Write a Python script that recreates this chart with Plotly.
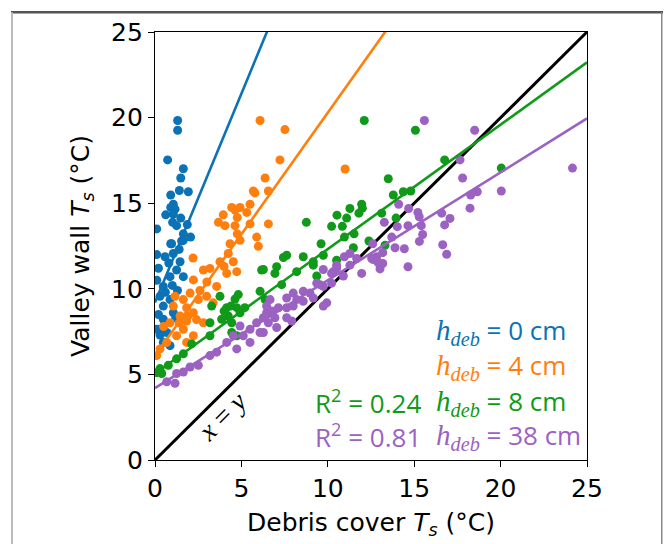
import plotly.graph_objects as go

# ---------------- data ----------------
blue_x = [1.31, 1.31, 0.73, 1.64, 1.49, 1.41, 1.93, 0.91, 1.06, 0.91, 1.16, 0.62, 1.06, 1.49, 1.02,
          1.25, 1.87, 1.64, 0.91, 1.54, 2.06, 0.10, 0.10, 0.96, 1.64, 0.58, 1.06, 1.45, 1.25, 0.87,
          1.64, 0.48, 0.29, 0.87, 0.48, 1.06, 0.48, 0.29, 0.68, 0.48, 0.87, 0.29, 1.30, 0.20, 1.00,
          0.60, 1.20, 0.20, 1.40, 0.80, 0.10, 0.10]
blue_y = [19.83, 19.26, 17.53, 17.01, 16.47, 15.74, 15.67, 15.48, 14.94, 14.75, 14.65, 14.32, 14.36, 14.13, 13.88,
          13.69, 13.75, 13.21, 12.63, 12.79, 13.02, 13.50, 12.00, 12.63, 12.83, 11.87, 12.06, 11.58, 11.10, 10.71,
          10.71, 10.14, 9.56, 9.37, 8.99, 8.60, 8.22, 7.64, 7.45, 6.87, 6.68, 7.30, 9.90, 11.20, 10.20,
          9.80, 8.30, 8.50, 12.30, 11.50, 10.50, 7.64]

orange_x = [6.08, 7.52, 7.23, 11.00, 6.37, 6.56, 5.69, 5.78, 5.50, 4.44, 4.92, 4.63, 5.31, 3.95, 4.76,
            3.67, 4.05, 4.63, 5.50, 6.56, 4.76, 4.34, 4.92, 5.88, 5.98, 4.24, 3.76, 4.53, 3.18, 2.80,
            4.15, 4.73, 2.22, 3.57, 2.03, 2.99, 2.51, 1.64, 3.37, 1.16, 1.06, 1.83, 2.22, 1.45, 0.87,
            1.83, 2.80, 1.64, 1.25, 2.22, 1.83, 0.68, 0.29, 0.10, 2.20, 2.60, 1.90, 2.40, 1.40, 3.00,
            4.00, 0.50]
orange_y = [19.83, 19.30, 17.53, 17.00, 16.47, 15.71, 15.71, 15.60, 14.94, 14.75, 14.75, 14.60, 14.46, 14.32, 14.17,
            13.88, 13.69, 13.69, 13.79, 13.79, 13.21, 12.63, 12.83, 13.02, 12.48, 12.06, 11.58, 11.58, 11.19, 11.10,
            10.90, 11.00, 10.52, 10.14, 9.75, 9.56, 9.37, 9.37, 9.18, 9.56, 8.99, 8.89, 8.60, 8.41, 8.02,
            8.12, 8.02, 7.64, 7.26, 7.26, 6.87, 6.87, 6.49, 6.10, 11.80, 9.90, 8.40, 8.20, 8.00, 10.40,
            11.30, 7.80]

green_x = [12.11, 15.07, 16.76, 20.04, 13.50, 13.79, 14.37, 14.80, 13.95, 11.96, 12.00, 11.80, 11.28, 10.53, 11.09,
           13.12, 8.76, 10.22, 10.84, 11.52, 9.61, 10.96, 12.38, 11.48, 13.31, 10.51, 9.16, 9.36, 8.58, 7.62,
           7.43, 9.74, 9.16, 7.04, 6.94, 8.20, 6.27, 7.33, 6.37, 6.17, 6.08, 4.82, 4.63, 3.76, 3.28,
           4.15, 4.73, 4.92, 4.24, 3.86, 4.44, 3.18, 3.18, 4.44, 4.73, 2.12, 1.64, 1.25, 0.77, 0.29,
           0.39, 0.10, 4.40, 4.00, 5.20]
green_y = [19.83, 19.26, 17.53, 17.05, 16.43, 15.48, 15.67, 15.71, 14.13, 14.94, 14.71, 14.42, 14.69, 14.30, 14.13,
           14.42, 13.88, 13.65, 13.65, 13.21, 12.63, 13.02, 12.79, 12.40, 12.54, 11.67, 11.58, 10.75, 11.87, 11.96,
           11.83, 11.96, 11.38, 11.29, 10.90, 11.00, 11.13, 10.24, 9.37, 11.10, 9.85, 9.66, 9.40, 9.56, 8.99,
           8.89, 8.90, 8.60, 8.41, 8.22, 8.02, 8.02, 7.26, 7.45, 7.26, 6.78, 6.20, 5.91, 5.53, 5.34,
           5.05, 5.10, 9.00, 8.70, 8.90]

purple_x = [15.59, 18.50, 17.65, 24.16, 17.80, 18.27, 18.65, 20.04, 18.23, 14.10, 14.68, 15.21, 15.29, 16.59, 17.07,
            16.76, 13.27, 14.02, 14.64, 15.41, 15.49, 15.30, 16.65, 16.88, 13.70, 13.89, 14.43, 12.60, 13.18, 12.83,
            12.63, 13.18, 13.02, 14.64, 11.96, 10.96, 11.28, 10.51, 9.74, 10.32, 10.90, 9.55, 11.67, 12.54, 12.92,
            11.28, 10.51, 10.22, 9.36, 9.74, 10.22, 8.58, 8.97, 9.16, 8.00, 7.62, 8.20, 8.58, 9.94, 9.74,
            6.66, 7.14, 7.62, 8.00, 6.75, 6.46, 6.94, 7.62, 6.27, 6.56, 7.91, 7.04, 6.27, 6.46, 5.88,
            5.50, 4.92, 5.11, 4.53, 4.15, 4.73, 3.57, 3.18, 2.51, 2.03, 1.64, 1.25, 0.68, 1.16, 6.08,
            5.50]
purple_y = [19.83, 19.26, 17.53, 17.05, 16.47, 15.48, 15.67, 15.71, 14.71, 14.94, 14.69, 14.46, 14.21, 14.42, 14.11,
            13.73, 13.88, 13.63, 13.69, 13.69, 13.17, 12.77, 12.57, 12.02, 13.02, 12.40, 12.34, 12.63, 12.11, 11.87,
            11.71, 11.48, 11.16, 11.29, 10.90, 11.87, 12.06, 11.19, 11.13, 11.00, 10.75, 10.24, 11.77, 11.77, 11.52,
            11.38, 11.38, 10.90, 10.33, 10.14, 10.33, 9.85, 9.75, 9.46, 9.75, 9.46, 9.37, 9.27, 9.18, 8.99,
            9.37, 8.89, 8.89, 8.99, 8.70, 8.60, 8.31, 8.31, 8.31, 8.02, 8.12, 7.74, 7.45, 8.99, 8.02,
            7.64, 7.83, 7.26, 7.26, 6.87, 6.49, 6.30, 6.10, 5.53, 5.43, 5.14, 5.05, 4.57, 4.48, 7.45,
            6.87]

series_x = [blue_x, orange_x, green_x, purple_x]
series_y = [blue_y, orange_y, green_y, purple_y]
colors = ["#0a72b5", "#ff7f0e", "#119a19", "#9b62c2"]
fit_slope = [2.44, 1.42, 0.727, 0.63]
fit_intercept = [9.2, 6.09, 5.05, 4.2]
depth_labels = ["0 cm", "4 cm", "8 cm", "38 cm"]
r2_labels = [None, None, "0.24", "0.81"]
axis_ticks = [0, 5, 10, 15, 20, 25]
fit_x = [0, 25]

# ---------------- figure ----------------
fig = go.Figure()

# x = y reference line
fig.add_trace(go.Scatter(x=fit_x, y=fit_x, mode="lines",
                         line=dict(color="black", width=3), showlegend=False, hoverinfo="skip"))

for xs, ys, c in zip(series_x, series_y, colors):
    fig.add_trace(go.Scatter(x=xs, y=ys, mode="markers",
                             marker=dict(color=c, size=9, line=dict(width=0)),
                             showlegend=False))

for m, b, c in zip(fit_slope, fit_intercept, colors):
    fig.add_trace(go.Scatter(x=fit_x, y=[b + m * xv for xv in fit_x], mode="lines",
                             line=dict(color=c, width=2.6), showlegend=False, hoverinfo="skip"))

FONT = "DejaVu Sans"
LEG_FONT = "Open Sans"
SERIF = "Liberation Serif"

axis_common = dict(range=[0, 25], tickvals=axis_ticks, ticks="outside", ticklen=6, tickwidth=1.3,
                   tickcolor="black", showline=True, linecolor="black", linewidth=1.4, mirror=True,
                   showgrid=False, zeroline=False, tickfont=dict(family=FONT, size=25, color="black"))

fig.update_layout(
    width=664, height=544,
    margin=dict(l=155, r=77, t=32, b=78),
    paper_bgcolor="white", plot_bgcolor="white",
    xaxis=dict(axis_common, title=dict(text="Debris cover <i>T</i><sub><i>s</i></sub> (°C)",
                                       font=dict(family=FONT, size=25, color="black"), standoff=11)),
    yaxis=dict(axis_common, title=dict(text="Valley wall <i>T</i><sub><i>s</i></sub> (°C)",
                                       font=dict(family=FONT, size=25, color="black"), standoff=14)),
)

# legend-like annotations
leg_y = [335, 371, 407, 442]
for i, (c, lab) in enumerate(zip(colors, depth_labels)):
    ypap = (466 - leg_y[i]) / 434
    fig.add_annotation(
        xref="paper", yref="paper", x=(434 - 155) / 432, y=ypap, xanchor="left", yanchor="middle",
        text=(f'<span style="font-family:{SERIF};font-size:29px"><i>h</i></span>'
              f'<span style="font-family:{SERIF};font-size:29px"><sub><i>deb</i></sub></span> = {lab}'),
        showarrow=False, font=dict(family=LEG_FONT, size=26, color=c))
    if r2_labels[i] is not None:
        fig.add_annotation(
            xref="paper", yref="paper", x=(313 - 155) / 432, y=ypap, xanchor="left", yanchor="middle",
            text=f"R<sup>2</sup> = {r2_labels[i]}",
            showarrow=False, font=dict(family=LEG_FONT, size=26, color=c))

fig.add_annotation(x=3.86, y=2.55, xref="x", yref="y", text="<i>x</i> = <i>y</i>", textangle=-45,
                   showarrow=False, font=dict(family=SERIF, size=28, color="black"))

# outer frame of the figure panel
def px_x(p):
    return (p - 155) / 432

def px_y(p):
    return (466 - p) / 434

fig.add_shape(type="line", xref="paper", yref="paper", x0=px_x(11), x1=px_x(663), y0=px_y(12), y1=px_y(12),
              line=dict(color="#555555", width=2.5), layer="above")
fig.add_shape(type="rect", xref="paper", yref="paper", x0=px_x(11), x1=px_x(13), y0=px_y(560), y1=px_y(12),
              line=dict(width=0), fillcolor="#bbbbbb", layer="above")
fig.add_shape(type="rect", xref="paper", yref="paper", x0=px_x(661), x1=px_x(662.5), y0=px_y(560), y1=px_y(12),
              line=dict(width=0), fillcolor="#888888", layer="above")

fig.write_html("out.html", config={"displayModeBar": False},
               post_script="document.body.style.margin='0px';document.body.style.overflow='hidden';")
